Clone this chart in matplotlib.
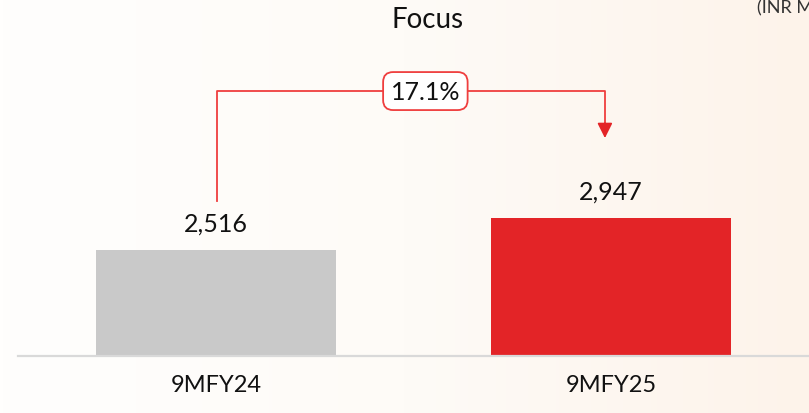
import numpy as np
import matplotlib
matplotlib.use('Agg')
import matplotlib.pyplot as plt
from matplotlib.colors import LinearSegmentedColormap

# data
periods = ['9MFY24', '9MFY25']
values = [2516, 2947]
growth_label = '17.1%'
bar_colors = ['#c9c9c9', '#e32427']

plt.rcParams['font.family'] = ['Lato', 'DejaVu Sans']

fig = plt.figure(figsize=(8.09, 4.14), dpi=100)

# soft warm background
bg = fig.add_axes([0, 0, 1, 1], zorder=0)
grad = np.linspace(0, 1, 256).reshape(1, -1)
cmap = LinearSegmentedColormap.from_list('bg', ['#fffefd', '#fefbf7', '#fdf3ea'])
bg.imshow(grad, aspect='auto', cmap=cmap, extent=[0, 1, 0, 1])
bg.axis('off')

ax = fig.add_axes([18 / 809, 57 / 414, 791 / 809, 357 / 414], zorder=1)
ax.patch.set_alpha(0)

x = np.arange(len(values))
ax.bar(x, values, width=0.608, color=bar_colors, zorder=2)
ax.set_xlim(-0.5, 1.5)
ax.set_ylim(1088, 5900)

# value labels
for xi, v in zip(x, values):
    ax.annotate(f'{v:,}', (xi, v), xytext=(0, 19.5), textcoords='offset points',
                ha='center', va='center', fontsize=18, color='#111111')

# growth connector
line_col = '#ef3e3e'
x_left, x_right = 0.004, 0.984
y_start = values[0] + 660
y_top = max(values) + 1712
y_tip = max(values) + 1078
ax.plot([x_left, x_left, x_right, x_right], [y_start, y_top, y_top, y_tip + 180],
        color=line_col, lw=1.3, zorder=3)
ax.annotate('', xy=(x_right, y_tip), xytext=(x_right, y_tip + 200),
            arrowprops=dict(arrowstyle='-|>,head_length=0.9,head_width=0.45',
                            color='#e32427', lw=1.3, shrinkA=0, shrinkB=0), zorder=3)
ax.text(0.53, y_top, growth_label, ha='center', va='center', fontsize=18, color='#111111',
        zorder=4,
        bbox=dict(boxstyle='round,pad=0.3,rounding_size=0.4', facecolor='white',
                  edgecolor=line_col, linewidth=1.3))

# axes styling
for s in ['top', 'right', 'left']:
    ax.spines[s].set_visible(False)
ax.spines['bottom'].set_color('#d9d9d9')
ax.spines['bottom'].set_linewidth(1.6)
ax.set_yticks([])
ax.set_xticks(x)
ax.set_xticklabels(periods, fontsize=17, color='#111111')
ax.tick_params(axis='x', length=0, pad=13)

fig.text(428 / 809, 1 - 20 / 414, 'Focus', ha='center', va='center', fontsize=20, color='#111111')
fig.text(757 / 809, 1 - 8 / 414, '(INR M', ha='left', va='center', fontsize=13, color='#333333')

fig.savefig('out.png', dpi=100, facecolor=fig.get_facecolor())
